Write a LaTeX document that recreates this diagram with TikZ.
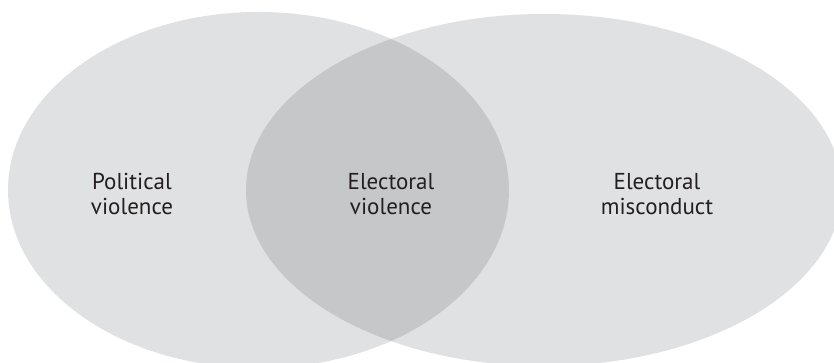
\documentclass[tikz,border=0pt]{standalone}
\usepackage{fontspec}
\setmainfont{PT Sans}
\definecolor{lightg}{RGB}{224,225,226}
\definecolor{darkg}{RGB}{198,199,201}
\definecolor{txt}{RGB}{35,31,32}
\begin{document}
\begin{tikzpicture}[x=1pt,y=1pt,
  lbl/.style={align=center,font=\fontsize{23}{25}\selectfont,text=txt,inner sep=0pt}]
\useasboundingbox (0,0) rectangle (834,362);
\begin{scope}
\clip (0,0) rectangle (834,362);
\fill[lightg] (258.5,172) ellipse [x radius=250.5, y radius=178];
\fill[lightg] (544,172) ellipse [x radius=298, y radius=176];
\begin{scope}
\clip (258.5,172) ellipse [x radius=250.5, y radius=178];
\fill[darkg] (544,172) ellipse [x radius=298, y radius=176];
\end{scope}
\end{scope}
\node[lbl] (pv) at (132,168) {Political\\violence};
\node[lbl] (ev) at (391,168) {Electoral\\violence};
\node[lbl] (em) at (657,168) {Electoral\\misconduct};
\end{tikzpicture}
\end{document}
